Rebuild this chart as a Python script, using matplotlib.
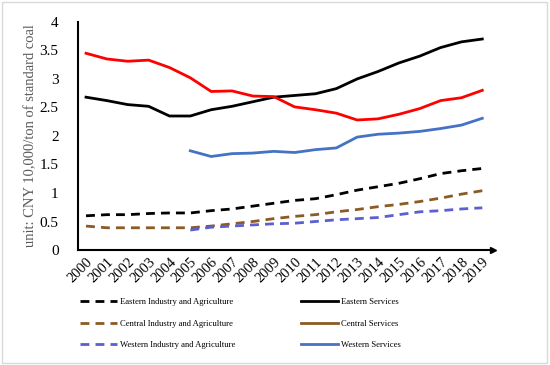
import matplotlib; matplotlib.use('Agg')
from matplotlib import pyplot as plt
from matplotlib.lines import Line2D
from matplotlib.patches import Rectangle

############## DATA ################

years = list(range(2000, 2020))
years_w = list(range(2005, 2020))

east_ind = [0.60, 0.62, 0.62, 0.64, 0.65, 0.65, 0.69, 0.72, 0.77, 0.82,
            0.87, 0.90, 0.97, 1.05, 1.11, 1.17, 1.25, 1.34, 1.39, 1.43]
central_ind = [0.42, 0.39, 0.39, 0.39, 0.39, 0.39, 0.42, 0.46, 0.50, 0.55,
               0.59, 0.62, 0.67, 0.71, 0.76, 0.80, 0.85, 0.91, 0.98, 1.04]
west_ind = [0.35, 0.40, 0.42, 0.44, 0.46, 0.47, 0.50, 0.53, 0.55, 0.57,
            0.62, 0.67, 0.69, 0.72, 0.74]
east_srv = [2.68, 2.62, 2.55, 2.52, 2.35, 2.35, 2.46, 2.52, 2.60, 2.68,
            2.71, 2.74, 2.83, 3.00, 3.13, 3.28, 3.40, 3.55, 3.65, 3.70]
central_srv = [3.45, 3.35, 3.31, 3.33, 3.20, 3.02, 2.78, 2.79, 2.70, 2.69,
               2.51, 2.46, 2.40, 2.28, 2.30, 2.38, 2.48, 2.62, 2.67, 2.80]
west_srv = [1.74, 1.64, 1.69, 1.70, 1.73, 1.71, 1.76, 1.79, 1.98, 2.03,
            2.05, 2.08, 2.13, 2.19, 2.31]

yticks = [0, 0.5, 1, 1.5, 2, 2.5, 3, 3.5, 4]

############## PLOT ################

plt.rcParams['font.family'] = ['Liberation Serif', 'DejaVu Serif']

fig = plt.figure(figsize=(5.5, 3.65), dpi=100)
fig.patches.append(Rectangle((0.004, 0.006), 0.99, 0.988, transform=fig.transFigure,
                             fill=False, edgecolor='#d9d9d9', linewidth=1))
ax = fig.add_axes([0.142, 0.315, 0.755, 0.625])

black = 'black'
red = '#ff0000'
blue = '#4472c4'
brown = '#8c5a26'
purple = '#5b5fd0'
dash = (3.2, 2.2)

ax.plot(years, east_ind, color=black, lw=2, dashes=dash)
ax.plot(years, central_ind, color=brown, lw=2, dashes=dash)
ax.plot(years_w, west_ind, color=purple, lw=2, dashes=dash)
ax.plot(years, east_srv, color=black, lw=2)
ax.plot(years, central_srv, color=red, lw=2)
ax.plot(years_w, west_srv, color=blue, lw=2)

ax.set_xlim(1999.62, 2019.53)
ax.set_ylim(0, 4)
ax.set_xticks(years)
ax.set_xticklabels([str(y) for y in years], rotation=45, fontsize=10.5,
                   ha='right', rotation_mode='anchor')
ax.set_yticks(yticks)
ax.set_yticklabels(['0', '0.5', '1', '1.5', '2', '2.5', '3', '3.5', '4'], fontsize=11)
ax.tick_params(length=0)
ax.tick_params(axis='x', pad=4)
ax.tick_params(axis='y', pad=14)

ax.spines['top'].set_visible(False)
ax.spines['right'].set_visible(False)
ax.spines['left'].set_linewidth(1.5)
ax.spines['bottom'].set_linewidth(1.5)
ax.plot(1, 0, '>k', markersize=5, transform=ax.get_yaxis_transform(), clip_on=False)
ax.plot(0, 1, '^k', markersize=5, transform=ax.get_xaxis_transform(), clip_on=False)

ax.set_ylabel('unit: CNY 10,000/ton of standard coal', color='#595959', fontsize=10.5,
              labelpad=2)

handles = [Line2D([], [], color=black, lw=2, dashes=dash),
           Line2D([], [], color=brown, lw=2, dashes=dash),
           Line2D([], [], color=purple, lw=2, dashes=dash),
           Line2D([], [], color=black, lw=2),
           Line2D([], [], color=brown, lw=2),
           Line2D([], [], color=blue, lw=2)]
labels = ['Eastern Industry and Agriculture', 'Central Industry and Agriculture',
          'Western Industry and Agriculture', 'Eastern Services', 'Central Services',
          'Western Services']
fig.legend(handles, labels, loc='upper left', bbox_to_anchor=(0.131, 0.204), ncol=2,
           frameon=False, fontsize=6.2, handlelength=4.3, handletextpad=0.35,
           columnspacing=7.6, labelspacing=1.55)

plt.savefig('out.png', dpi=100)
plt.close()
